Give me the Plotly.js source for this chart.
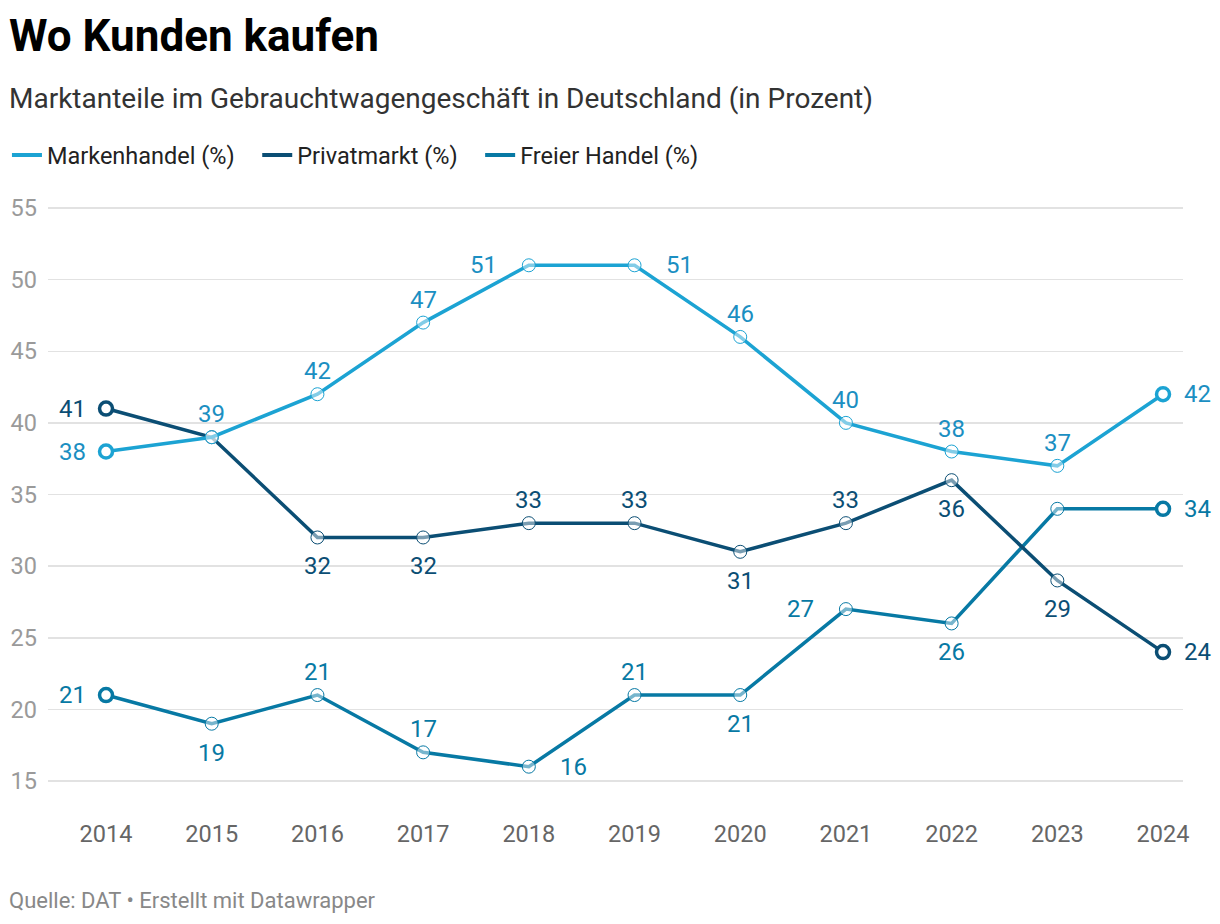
<!DOCTYPE html>
<html>
<head>
<meta charset="utf-8">
<script src="https://cdn.plot.ly/plotly-3.0.1.min.js"></script>
<style>
html,body{margin:0;padding:0;background:#fff;}
#chart{width:1220px;height:924px;}
</style>
</head>
<body>
<div id="chart"></div>
<script>
const years = [2014, 2015, 2016, 2017, 2018, 2019, 2020, 2021, 2022, 2023, 2024];
const markenhandel = [38, 39, 42, 47, 51, 51, 46, 40, 38, 37, 42];
const privatmarkt = [41, 39, 32, 32, 33, 33, 31, 33, 36, 29, 24];
const freierHandel = [21, 19, 21, 17, 16, 21, 21, 27, 26, 34, 34];
const seriesNames = ['Markenhandel (%)', 'Privatmarkt (%)', 'Freier Handel (%)'];
const yTicks = [15, 20, 25, 30, 35, 40, 45, 50, 55];

// label placement per point: T=above, B=below, L=left, R=right, ''=no label
const posMarken = ['L','T','T','T','L','R','T','T','T','T','R'];
const posPrivat = ['L','','B','B','T','T','B','T','B','B','R'];
const posFreier = ['L','B','T','T','R','T','B','L','B','','R'];

const lineColors = ['#1ca3d3', '#0b4e74', '#0779a4'];
const labelColors = ['#1b8fc2', '#0b4e74', '#0779a4'];
const FONT = 'Roboto, sans-serif';

function makeTraces(vals, i) {
  const n = vals.length;
  const main = {
    x: years, y: vals, type: 'scatter', mode: 'lines+markers',
    name: seriesNames[i], showlegend: false, cliponaxis: false,
    line: {color: lineColors[i], width: 3.5},
    marker: {symbol: 'circle', size: 13, color: 'rgba(255,255,255,0.45)',
             line: {color: lineColors[i], width: 1}},
    hoverinfo: 'x+y'
  };
  const ends = {
    x: [years[0], years[n - 1]], y: [vals[0], vals[n - 1]],
    type: 'scatter', mode: 'markers', showlegend: false, cliponaxis: false,
    marker: {symbol: 'circle', size: 13, color: '#ffffff',
             line: {color: lineColors[i], width: 3.5}},
    hoverinfo: 'x+y'
  };
  return [main, ends];
}

function makeLabels(vals, pos, i) {
  const n = vals.length;
  const out = [];
  vals.forEach((v, k) => {
    const p = pos[k];
    if (!p) return;
    const end = (k === 0 || k === n - 1);
    const a = {
      x: years[k], y: v, xref: 'x', yref: 'y', text: String(v), showarrow: false,
      font: {family: FONT, size: 24, color: labelColors[i]},
      xanchor: 'center', yanchor: 'middle', xshift: 0, yshift: 0
    };
    if (p === 'T') a.yshift = 23;
    if (p === 'B') a.yshift = -29;
    if (p === 'L') { a.xanchor = 'right'; a.xshift = end ? -18 : -30; }
    if (p === 'R') { a.xanchor = 'left'; a.xshift = end ? 19 : 29; }
    out.push(a);
  });
  return out;
}

const legendTraces = seriesNames.map((nm, i) => ({
  x: [null], y: [null], type: 'scatter', mode: 'lines', name: nm + '\u00a0\u00a0\u00a0',
  line: {color: lineColors[i], width: 4}, showlegend: true
}));

const data = [
  ...makeTraces(freierHandel, 2),
  ...makeTraces(privatmarkt, 1),
  ...makeTraces(markenhandel, 0),
  ...legendTraces
];

const annotations = [
  {text: '<b>Wo Kunden kaufen</b>', xref: 'paper', yref: 'paper', x: -0.0365, y: 1.273,
   xanchor: 'left', yanchor: 'middle', showarrow: false,
   font: {family: FONT, size: 44, color: '#000'}},
  {text: 'Marktanteile im Gebrauchtwagengeschäft in Deutschland (in Prozent)', xref: 'paper', yref: 'paper',
   x: -0.0365, y: 1.17, xanchor: 'left', yanchor: 'middle', showarrow: false,
   font: {family: FONT, size: 28, color: '#333'}},
  {text: 'Quelle: DAT • Erstellt mit Datawrapper', xref: 'paper', yref: 'paper',
   x: -0.0365, y: -0.1667, xanchor: 'left', yanchor: 'middle', showarrow: false,
   font: {family: FONT, size: 22, color: '#888'}},
  ...makeLabels(markenhandel, posMarken, 0),
  ...makeLabels(privatmarkt, posPrivat, 1),
  ...makeLabels(freierHandel, posFreier, 2)
];

const layout = {
  width: 1220, height: 924,
  margin: {l: 48, r: 37, t: 200, b: 124, autoexpand: false},
  paper_bgcolor: '#fff', plot_bgcolor: '#fff',
  font: {family: FONT},
  showlegend: true,
  legend: {
    orientation: 'h', xref: 'container', yref: 'container',
    x: 0.0057, xanchor: 'left', y: 0.832, yanchor: 'middle',
    font: {family: FONT, size: 23.5, color: '#222'},
    itemwidth: 30, traceorder: 'normal', tracegroupgap: 0
  },
  xaxis: {
    range: [2013.451, 2024.189], automargin: false,
    tickvals: years, ticktext: years.map(String),
    showgrid: false, zeroline: false, showline: false, ticks: '',
    tickfont: {family: FONT, size: 23.5, color: '#666'},
    ticklabelstandoff: 17, fixedrange: true
  },
  yaxis: {
    range: [13.674, 55.558], automargin: false,
    tickvals: yTicks, ticktext: yTicks.map(String),
    showgrid: true, gridcolor: '#e2e2e2', gridwidth: 1.5,
    zeroline: false, showline: false, ticks: '',
    tickfont: {family: FONT, size: 23.5, color: '#9a9a9a'},
    ticklabelstandoff: 10, fixedrange: true
  },
  annotations: annotations
};

Plotly.newPlot('chart', data, layout, {displayModeBar: false, staticPlot: true});
</script>
</body>
</html>
